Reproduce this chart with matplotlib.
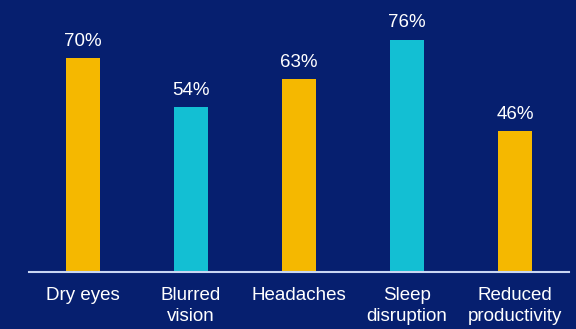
import matplotlib
matplotlib.use('Agg')
import matplotlib.pyplot as plt

# Данные
categories = ['Dry eyes', 'Blurred\nvision', 'Headaches', 'Sleep\ndisruption', 'Reduced\nproductivity']
values = [70, 54, 63, 76, 46]
colors = ['#f5b800', '#13bfd3', '#f5b800', '#13bfd3', '#f5b800']

bg = '#061f6f'
plt.rcParams['font.family'] = ['Liberation Sans', 'DejaVu Sans']

fig = plt.figure(figsize=(5.76, 3.29), dpi=100, facecolor=bg)
ax = fig.add_axes([0.050, 0.173, 0.938, 0.827], facecolor=bg)

x = list(range(len(categories)))
bars = ax.bar(x, values, width=0.31, color=colors)

# Подписи значений
for xi, v in zip(x, values):
    ax.annotate(f'{v}%', (xi, v), xytext=(0, 6), textcoords='offset points',
                ha='center', va='bottom', color='white', fontsize=13.5)

ax.set_xlim(-0.5, 4.5)
ax.set_ylim(0, 89)
ax.set_xticks(x)
ax.set_xticklabels(categories, color='white', fontsize=13.5, linespacing=1.3)
ax.tick_params(axis='x', length=0, pad=11)
ax.set_yticks([])
for s in ['top', 'right', 'left']:
    ax.spines[s].set_visible(False)
ax.spines['bottom'].set_color('#c9d6f2')
ax.spines['bottom'].set_linewidth(1.5)

fig.savefig('out.png', dpi=100, facecolor=bg)
